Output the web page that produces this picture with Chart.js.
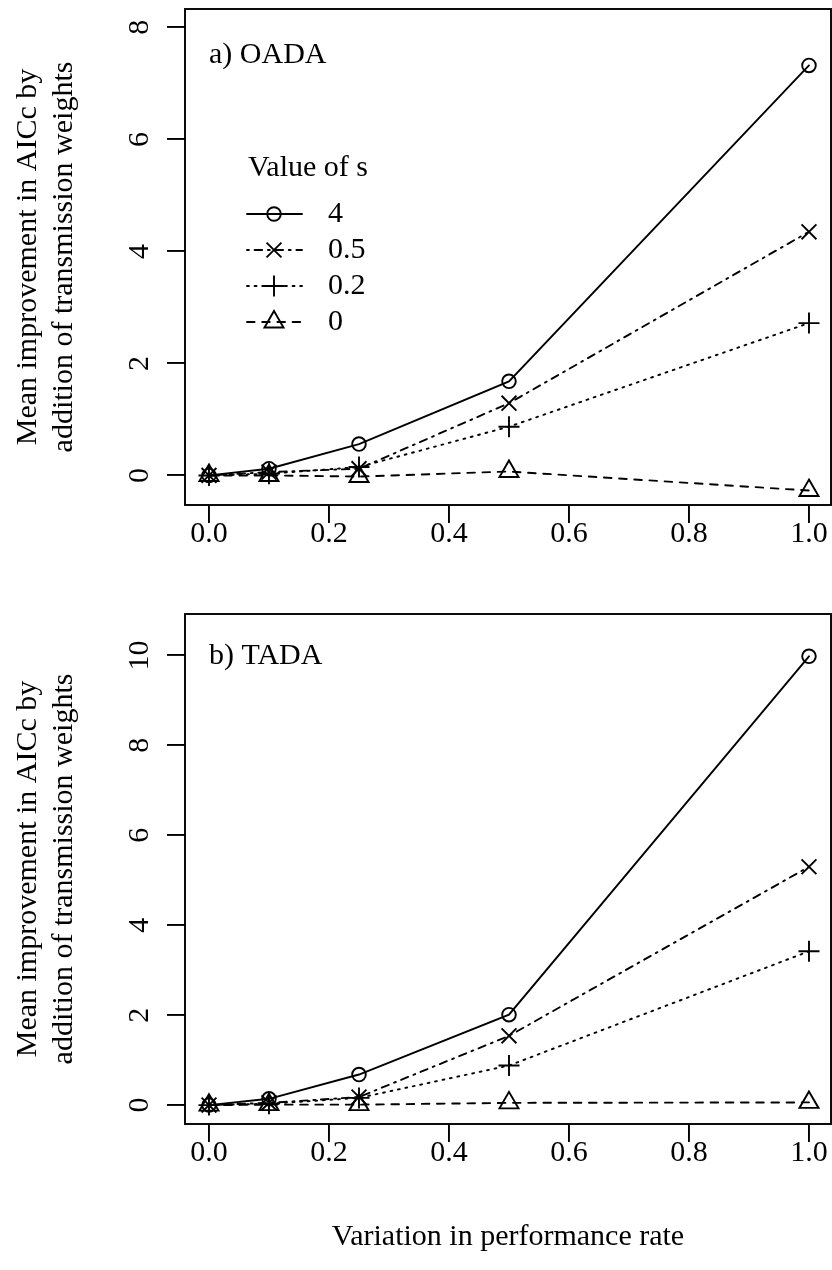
<!DOCTYPE html>
<html>
<head>
<meta charset="utf-8">
<title>Mean improvement in AICc by addition of transmission weights</title>
<script src="https://cdn.jsdelivr.net/npm/chart.js@4.4.1/dist/chart.umd.min.js"></script>
<style>
  html, body { margin: 0; padding: 0; background: #fff; }
  #page { position: relative; width: 832px; height: 1270px; overflow: hidden; }
  #page canvas { position: absolute; left: 0; }
</style>
</head>
<body>
<div id="page">
  <canvas id="chartOADA" width="832" height="605" style="top:0px"></canvas>
  <canvas id="chartTADA" width="832" height="665" style="top:605px"></canvas>
</div>
<script>
// x = variation in performance rate
const xValues = [0, 0.1, 0.25, 0.5, 1.0];
const seriesNames = ['4', '0.5', '0.2', '0'];

// a) OADA, one array per value of s
const oadaS4  = [0, 0.12, 0.56, 1.68, 7.32];
const oadaS05 = [0, 0.06, 0.12, 1.29, 4.35];
const oadaS02 = [0, 0.03, 0.15, 0.87, 2.72];
const oadaS0  = [0, 0.00, -0.02, 0.07, -0.27];

// b) TADA
const tadaS4  = [0, 0.14, 0.68, 2.01, 9.98];
const tadaS05 = [0, 0.05, 0.18, 1.54, 5.30];
const tadaS02 = [0, 0.03, 0.16, 0.88, 3.42];
const tadaS0  = [0, 0.01, 0.01, 0.05, 0.06];

const xTicks = [0, 0.2, 0.4, 0.6, 0.8, 1.0];
const xTickLabels = ['0.0', '0.2', '0.4', '0.6', '0.8', '1.0'];
const oadaYTicks = [0, 2, 4, 6, 8];
const tadaYTicks = [0, 2, 4, 6, 8, 10];

const FONT = '"Liberation Serif", "Times New Roman", serif';
const FS = 30;
const LW = 1.9;
const U = 1.9; // one R lty unit

// solid/circle, dotdash/x, dotted/+, dashed/triangle
const seriesStyles = [
  { dash: [], point: 'circle', radius: 6.8 },
  { dash: [U, 3 * U, 4 * U, 3 * U], point: 'crossRot', radius: 10.5 },
  { dash: [U, 3 * U], point: 'cross', radius: 10.5 },
  { dash: [4 * U, 4 * U], point: 'triangle', radius: 11 }
];

function makeDatasets(seriesList) {
  return seriesList.map((vals, i) => ({
    label: seriesNames[i],
    data: xValues.map((x, j) => ({ x: x, y: vals[j] })),
    borderColor: '#000',
    borderWidth: LW,
    borderDash: seriesStyles[i].dash,
    borderCapStyle: 'round',
    tension: 0,
    fill: false,
    pointStyle: seriesStyles[i].point,
    pointRadius: seriesStyles[i].radius,
    pointBorderColor: '#000',
    pointBackgroundColor: 'rgba(0,0,0,0)',
    pointBorderWidth: LW
  }));
}

// box round the plot, rotated y tick labels, panel label and legend
const rFrame = {
  id: 'rFrame',
  afterDraw(chart, args, opts) {
    const { ctx, chartArea: a, scales } = chart;
    ctx.save();
    ctx.strokeStyle = '#000';
    ctx.fillStyle = '#000';
    ctx.lineWidth = LW;
    ctx.setLineDash([]);
    ctx.strokeRect(a.left, a.top, a.right - a.left, a.bottom - a.top);

    ctx.font = FS + 'px ' + FONT;
    ctx.textAlign = 'center';
    ctx.textBaseline = 'middle';
    scales.y.ticks.forEach(t => {
      const py = scales.y.getPixelForValue(t.value);
      ctx.save();
      ctx.translate(opts.yLabelX, py);
      ctx.rotate(-Math.PI / 2);
      ctx.fillText(String(t.value), 0, 0);
      ctx.restore();
    });

    ctx.textAlign = 'left';
    ctx.fillText(opts.panel, scales.x.getPixelForValue(opts.panelAt[0]), scales.y.getPixelForValue(opts.panelAt[1]));

    if (opts.legend) {
      const lg = opts.legend;
      ctx.fillText(lg.title, a.left + lg.titleDx, a.top + lg.titleDy);
      chart.data.datasets.forEach((ds, i) => {
        const y = a.top + lg.rowDy + i * lg.rowStep;
        ctx.save();
        ctx.setLineDash(ds.borderDash);
        ctx.lineCap = 'round';
        ctx.beginPath();
        ctx.moveTo(a.left + lg.lineDx0, y);
        ctx.lineTo(a.left + lg.lineDx1, y);
        ctx.stroke();
        ctx.restore();
        ctx.save();
        ctx.setLineDash([]);
        ctx.fillStyle = 'rgba(0,0,0,0)';
        Chart.helpers.drawPoint(ctx, { pointStyle: ds.pointStyle, radius: ds.pointRadius, borderWidth: LW, rotation: 0 }, a.left + lg.markDx, y);
        ctx.restore();
        ctx.fillText(ds.label, a.left + lg.textDx, y);
      });
    }
    ctx.restore();
  }
};

function createChart(id, datasets, cfg) {
  const ctx = document.getElementById(id).getContext('2d');
  return new Chart(ctx, {
    type: 'line',
    data: { datasets: datasets },
    plugins: [rFrame],
    options: {
      responsive: false,
      animation: false,
      devicePixelRatio: 1,
      events: [],
      layout: { autoPadding: false, padding: { top: 9, right: 1, left: 0, bottom: 0 } },
      scales: {
        x: {
          type: 'linear',
          min: -0.04,
          max: 1.0367,
          afterBuildTicks: (scale) => { scale.ticks = xTicks.map(v => ({ value: v })); },
          afterFit: (scale) => {
            scale.height = cfg.xAxisHeight;
            scale.paddingLeft = 0;
            scale.paddingRight = 0;
          },
          border: { display: false },
          grid: { drawOnChartArea: false, drawTicks: true, tickLength: 18, color: '#000', lineWidth: LW },
          ticks: {
            color: '#000',
            padding: -7,
            maxRotation: 0,
            autoSkip: false,
            font: { family: FONT, size: FS },
            callback: (v) => xTickLabels[xTicks.indexOf(v)]
          },
          title: {
            display: !!cfg.xTitle,
            text: cfg.xTitle || '',
            color: '#000',
            font: { family: FONT, size: FS, lineHeight: 1.2 },
            padding: { top: 0, bottom: 15 }
          }
        },
        y: {
          type: 'linear',
          min: cfg.yMin,
          max: cfg.yMax,
          afterBuildTicks: (scale) => { scale.ticks = cfg.yTicks.map(v => ({ value: v })); },
          afterFit: (scale) => { scale.width = 185; },
          border: { display: false },
          grid: { drawOnChartArea: false, drawTicks: true, tickLength: 18, color: '#000', lineWidth: LW },
          ticks: { display: false },
          title: {
            display: true,
            text: ['Mean improvement in AICc by', 'addition of transmission weights'],
            color: '#000',
            font: { family: FONT, size: FS, lineHeight: 36 / 30 },
            padding: { top: 10, bottom: 0 }
          }
        }
      },
      plugins: {
        legend: { display: false },
        tooltip: { enabled: false },
        rFrame: {
          yLabelX: 140,
          panel: cfg.panel,
          panelAt: cfg.panelAt,
          legend: cfg.legend
        }
      }
    }
  });
}

const chartOADA = createChart('chartOADA', makeDatasets([oadaS4, oadaS05, oadaS02, oadaS0]), {
  yMin: -0.528, yMax: 8.328, yTicks: oadaYTicks,
  xAxisHeight: 100,
  panel: 'a) OADA', panelAt: [0, 7.51],
  legend: {
    title: 'Value of s', titleDx: 63, titleDy: 159,
    rowDy: 205, rowStep: 36,
    lineDx0: 62, lineDx1: 117, markDx: 89, textDx: 143
  }
});

const chartTADA = createChart('chartTADA', makeDatasets([tadaS4, tadaS05, tadaS02, tadaS0]), {
  yMin: -0.42, yMax: 10.92, yTicks: tadaYTicks,
  xAxisHeight: 146,
  xTitle: 'Variation in performance rate',
  panel: 'b) TADA', panelAt: [0, 9.98],
  legend: null
});
</script>
</body>
</html>
